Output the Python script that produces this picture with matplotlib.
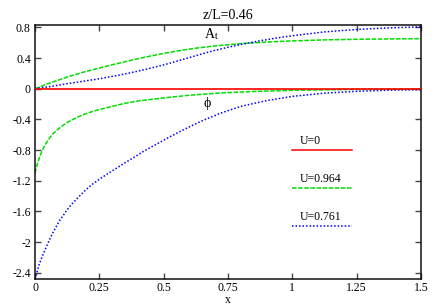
import matplotlib
matplotlib.use('Agg')
import matplotlib.pyplot as plt

plt.rcParams['font.family'] = ['Liberation Serif', 'DejaVu Serif']
plt.rcParams['mathtext.fontset'] = 'stix'

# values
title = 'z/L=0.46'
labels = ['U=0', 'U=0.964', 'U=0.761']
colors = ['#ff0000', '#00dd00', '#0000ff']

x_zero = [0, 1.5]
y_zero = [0, 0]

x_At = [0, 0.0625, 0.125, 0.1875, 0.25, 0.3125, 0.375, 0.4375, 0.5, 0.5625, 0.625,
        0.6875, 0.75, 0.8125, 0.875, 0.9375, 1.0, 1.125, 1.25, 1.375, 1.5]
y_At_g = [0, 0.08, 0.152, 0.215, 0.27, 0.322, 0.372, 0.418, 0.46, 0.497, 0.528,
          0.553, 0.573, 0.59, 0.603, 0.614, 0.623, 0.636, 0.644, 0.649, 0.652]
y_At_b = [0, 0.03, 0.065, 0.097, 0.13, 0.168, 0.21, 0.258, 0.31, 0.37, 0.43,
          0.49, 0.54, 0.585, 0.625, 0.66, 0.69, 0.74, 0.772, 0.793, 0.805]

x_phi_g = [0, 0.005, 0.01, 0.017, 0.025, 0.033, 0.043, 0.055, 0.069, 0.085, 0.1,
           0.125, 0.15, 0.186, 0.22, 0.252, 0.3, 0.35, 0.4, 0.5, 0.6, 0.72, 0.85,
           1.0, 1.25, 1.5]
y_phi_g = [-1.1, -1.03, -0.97, -0.9, -0.83, -0.77, -0.71, -0.65, -0.59, -0.54, -0.5,
           -0.44, -0.395, -0.34, -0.30, -0.27, -0.23, -0.19, -0.16, -0.12, -0.085,
           -0.056, -0.036, -0.021, -0.009, -0.004]

x_phi_b = [0, 0.004, 0.01, 0.017, 0.03, 0.043, 0.056, 0.069, 0.082, 0.095, 0.11,
           0.122, 0.14, 0.161, 0.18, 0.2, 0.225, 0.252, 0.285, 0.317, 0.35, 0.382,
           0.42, 0.46, 0.514, 0.58, 0.645, 0.72, 0.8, 0.9, 1.0, 1.125, 1.25, 1.375, 1.5]
y_phi_b = [-2.48, -2.44, -2.36, -2.28, -2.17, -2.07, -1.97, -1.88, -1.80, -1.72, -1.65,
           -1.59, -1.515, -1.44, -1.375, -1.31, -1.24, -1.175, -1.103, -1.035, -0.965,
           -0.9, -0.82, -0.745, -0.645, -0.53, -0.425, -0.32, -0.23, -0.155, -0.10,
           -0.058, -0.034, -0.02, -0.013]

xticks = [0, 0.25, 0.5, 0.75, 1, 1.25, 1.5]
xticklabels = ['0', '0.25', '0.5', '0.75', '1', '1.25', '1.5']
yticks = [0.8, 0.4, 0, -0.4, -0.8, -1.2, -1.6, -2, -2.4]
yticklabels = ['0.8', '0.4', '0', '-0.4', '-0.8', '-1.2', '-1.6', '-2', '-2.4']

dash = (0, (3, 1))
dot = (0, (1, 1.3))
styles = ['-', dash, dot]

fig = plt.figure(figsize=(4.36, 3.05), dpi=100)
ax = fig.add_axes([0.0803, 0.0852, 0.8853, 0.8328])

ax.plot(x_zero, y_zero, color=colors[0], lw=1.2, zorder=3)
ax.plot(x_At, y_At_g, color=colors[1], lw=1.1, ls=dash)
ax.plot(x_phi_g, y_phi_g, color=colors[1], lw=1.1, ls=dash)
ax.plot(x_At, y_At_b, color=colors[2], lw=1.1, ls=dot)
ax.plot(x_phi_b, y_phi_b, color=colors[2], lw=1.1, ls=dot)

ax.set_xlim(0, 1.5)
ax.set_ylim(-2.48, 0.83)
ax.set_xticks(xticks)
ax.set_xticklabels(xticklabels)
ax.set_yticks(yticks)
ax.set_yticklabels(yticklabels)
ax.tick_params(direction='in', length=4, width=1, top=True, right=True,
               labelsize=8.5, pad=3, color='#444444')
ax.tick_params(axis='x', pad=2)
for s in ax.spines.values():
    s.set_linewidth(1.1)
    s.set_color('#111111')

ax.set_title(title, fontsize=10, pad=4)
ax.set_xlabel('x', fontsize=8.5, labelpad=0)

ax.text(0.655, 0.66, r'A$_{\mathrm{t}}$', fontsize=10)
ax.text(0.655, -0.24, 'ϕ', fontsize=10)

# hand drawn legend: label above a short line sample
leg_y = [0.508, 0.359, 0.209]
for lab, c, st, yy in zip(labels, colors, styles, leg_y):
    ax.plot([0.666, 0.821], [yy, yy], color=c, lw=1.1, ls=st, transform=ax.transAxes)
    ax.text(0.687, yy + 0.012, lab, fontsize=8.5, transform=ax.transAxes, va='bottom')

fig.savefig('out.png', dpi=100)
